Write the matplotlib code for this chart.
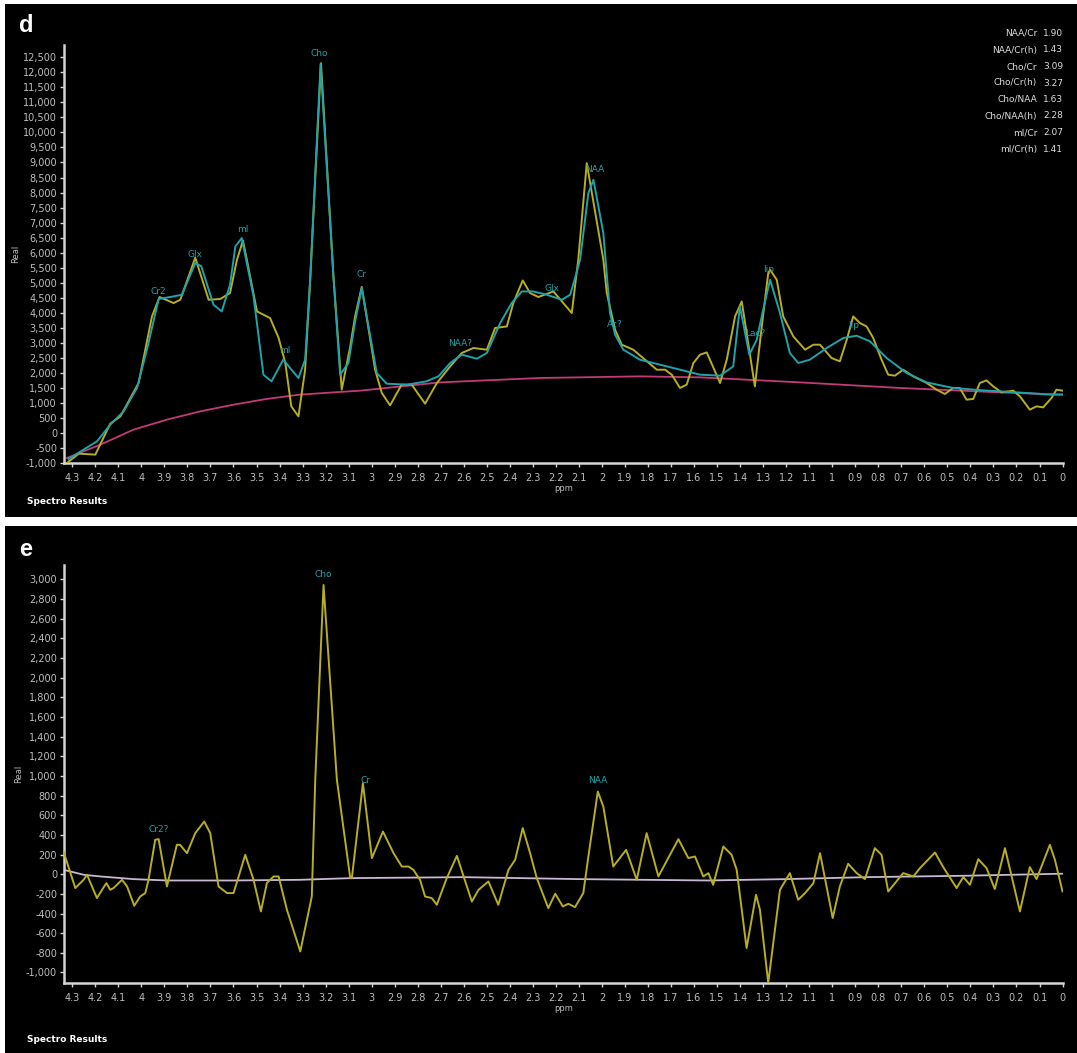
import matplotlib
matplotlib.use("Agg")
import matplotlib.pyplot as plt
from matplotlib.patches import Rectangle

# ---------------- data : panel d ----------------
d_raw_ppm = [4.323, 4.272, 4.200, 4.135, 4.091, 4.012, 3.954, 3.921, 3.860, 3.831, 3.766, 3.708,
             3.658, 3.615, 3.585, 3.559, 3.542, 3.498, 3.441, 3.404, 3.375, 3.349, 3.318, 3.289,
             3.267, 3.220, 3.166, 3.130, 3.093, 3.072, 3.043, 2.985, 2.956, 2.920, 2.870, 2.826,
             2.768, 2.717, 2.659, 2.609, 2.558, 2.500, 2.464, 2.413, 2.385, 2.344, 2.312, 2.276,
             2.211, 2.168, 2.131, 2.103, 2.066, 1.994, 1.979, 1.943, 1.914, 1.864, 1.762, 1.726,
             1.697, 1.661, 1.632, 1.603, 1.574, 1.545, 1.487, 1.458, 1.422, 1.393, 1.336, 1.306,
             1.278, 1.270, 1.241, 1.213, 1.169, 1.118, 1.082, 1.053, 1.003, 0.967, 0.937, 0.909,
             0.880, 0.851, 0.822, 0.786, 0.757, 0.728, 0.692, 0.648, 0.590, 0.547, 0.511, 0.475,
             0.446, 0.417, 0.388, 0.359, 0.330, 0.301, 0.265, 0.214, 0.185, 0.142, 0.113, 0.084,
             0.048, 0.026, 0.000]
d_raw_val = [-998, -688, -722, 309, 552, 1663, 3878, 4523, 4323, 4433, 5830, 4433,
             4456, 4656, 5763, 6400, 5763, 4044, 3823, 3159, 2328, 885, 552, 2105,
             5098, 12305, 5208, 1440, 2880, 3878, 4860, 2105, 1330, 918, 1606, 1606,
             974, 1663, 2215, 2660, 2827, 2770, 3492, 3545, 4323, 5075, 4656, 4523,
             4709, 4323, 3991, 5763, 8979, 5763, 4656, 3435, 2937, 2770, 2105, 2105,
             1939, 1497, 1606, 2328, 2604, 2680, 1663, 2438, 3878, 4377, 1550, 3545,
             5321, 5431, 5098, 3878, 3213, 2770, 2937, 2937, 2494, 2383, 3103, 3878,
             3658, 3545, 3159, 2438, 1939, 1906, 2105, 1883, 1663, 1440, 1297, 1497,
             1497, 1108, 1131, 1663, 1749, 1550, 1350, 1407, 1217, 775, 885, 851,
             1164, 1440, 1407]

d_fit_ppm = [4.316, 4.193, 4.135, 4.077, 4.019, 3.976, 3.925, 3.860, 3.824, 3.766, 3.740, 3.687,
             3.651, 3.615, 3.592, 3.564, 3.513, 3.470, 3.435, 3.384, 3.318, 3.289, 3.267, 3.222,
             3.166, 3.137, 3.101, 3.072, 3.043, 2.978, 2.935, 2.847, 2.763, 2.710, 2.659, 2.609,
             2.543, 2.500, 2.442, 2.392, 2.348, 2.298, 2.240, 2.174, 2.138, 2.117, 2.095, 2.059,
             2.037, 1.994, 1.965, 1.943, 1.907, 1.835, 1.690, 1.574, 1.487, 1.430, 1.401, 1.360,
             1.328, 1.300, 1.270, 1.227, 1.184, 1.148, 1.097, 1.024, 0.952, 0.894, 0.836, 0.764,
             0.677, 0.590, 0.475, 0.345, 0.200, 0.048, 0.000]
d_fit_val = [-865, -280, 276, 719, 1497, 2770, 4456, 4545, 4600, 5653, 5550, 4267,
             4044, 4932, 6206, 6485, 4545, 1939, 1716, 2438, 1829, 2438, 5098, 12280,
             5208, 1939, 2328, 3700, 4822, 1995, 1640, 1606, 1716, 1883, 2328, 2604,
             2471, 2660, 3658, 4323, 4709, 4709, 4600, 4433, 4600, 5154, 5763, 7981,
             8424, 6651, 3991, 3269, 2770, 2438, 2161, 1939, 1906, 2215, 4210, 2604,
             3103, 4100, 5098, 3991, 2660, 2328, 2438, 2827, 3159, 3236, 3047, 2494,
             1995, 1683, 1497, 1417, 1350, 1274, 1280]

d_base_ppm = [4.323, 4.178, 4.034, 3.889, 3.744, 3.600, 3.457, 3.313, 3.166, 3.050, 2.703,
              2.269, 1.835, 1.574, 1.140, 0.706, 0.272, 0.000]
d_base_val = [-832, -389, 110, 443, 719, 941, 1131, 1274, 1350, 1407, 1683,
              1829, 1883, 1850, 1683, 1497, 1350, 1274]

d_peak_labels = ["Cr2", "Glx", "ml", "ml", "Cho", "Cr", "NAA?", "Glx", "NAA", "Ac?", "Lac?", "lip", "lip"]
d_peak_ppm = [3.927, 3.769, 3.561, 3.375, 3.226, 3.043, 2.616, 2.218, 2.030, 1.943, 1.336, 1.278, 0.909]
d_peak_val = [4700, 5930, 6784, 2748, 12614, 5265, 2993, 4822, 8780, 3602, 3302, 5431, 3568]

ratio_names = ["NAA/Cr", "NAA/Cr(h)", "Cho/Cr", "Cho/Cr(h)", "Cho/NAA", "Cho/NAA(h)", "mI/Cr", "mI/Cr(h)"]
ratio_values = ["1.90", "1.43", "3.09", "3.27", "1.63", "2.28", "2.07", "1.41"]

# ---------------- data : panel e ----------------
e_res_ppm = [4.338, 4.287, 4.251, 4.236, 4.193, 4.171, 4.152, 4.135, 4.121, 4.084, 4.062, 4.031,
             4.005, 3.983, 3.969, 3.940, 3.925, 3.889, 3.846, 3.832, 3.802, 3.766, 3.727, 3.701,
             3.665, 3.628, 3.600, 3.582, 3.549, 3.513, 3.481, 3.455, 3.426, 3.404, 3.368, 3.310,
             3.260, 3.245, 3.209, 3.151, 3.093, 3.086, 3.038, 2.999, 2.951, 2.905, 2.869, 2.840,
             2.819, 2.790, 2.768, 2.739, 2.717, 2.674, 2.630, 2.565, 2.536, 2.493, 2.450, 2.406,
             2.377, 2.344, 2.312, 2.283, 2.233, 2.203, 2.170, 2.146, 2.117, 2.081, 2.059, 2.018,
             1.994, 1.951, 1.895, 1.849, 1.806, 1.755, 1.668, 1.625, 1.596, 1.560, 1.538, 1.517,
             1.473, 1.437, 1.415, 1.372, 1.331, 1.314, 1.278, 1.227, 1.184, 1.148, 1.118, 1.082,
             1.053, 0.998, 0.967, 0.931, 0.894, 0.858, 0.815, 0.786, 0.757, 0.692, 0.648, 0.619,
             0.554, 0.518, 0.460, 0.431, 0.402, 0.366, 0.330, 0.294, 0.250, 0.185, 0.142, 0.113,
             0.055, 0.033, 0.000]
e_res_val = [231, -141, -57, -6, -243, -159, -91, -159, -141, -57, -125, -321,
             -227, -192, -57, 350, 357, -125, 299, 299, 214, 418, 536, 418,
             -125, -192, -192, -57, 197, -57, -379, -90, -23, -23, -362, -786,
             -227, 960, 2943, 960, -40, -40, 926, 164, 434, 214, 78, 78,
             45, -57, -227, -243, -311, -40, 187, -278, -159, -74, -311, 45,
             146, 469, 214, -40, -345, -199, -328, -301, -335, -192, 180, 841,
             688, 78, 248, -57, 418, -23, 357, 164, 180, -23, 11, -108,
             282, 197, 45, -751, -209, -362, -1107, -159, 11, -260, -192, -91,
             214, -446, -125, 106, 11, -50, 265, 197, -176, 11, -23, 62,
             221, 72, -141, -29, -108, 153, 62, -151, 265, -379, 72, -50,
             299, 146, -176]

e_base_ppm = [4.338, 4.250, 4.178, 4.034, 3.889, 3.600, 3.310, 3.090, 2.600, 2.100, 1.540, 1.200, 0.850, 0.430, 0.000]
e_base_val = [45, -6, -23, -50, -64, -64, -57, -40, -30, -50, -64, -50, -30, -16, 5]

e_peak_labels = ["Cr2?", "Cho", "Cr", "NAA"]
e_peak_ppm = [3.925, 3.212, 3.028, 2.020]
e_peak_val = [451, 3054, 953, 953]

x_ticks = [4.3, 4.2, 4.1, 4.0, 3.9, 3.8, 3.7, 3.6, 3.5, 3.4, 3.3, 3.2, 3.1, 3.0, 2.9, 2.8, 2.7, 2.6,
           2.5, 2.4, 2.3, 2.2, 2.1, 2.0, 1.9, 1.8, 1.7, 1.6, 1.5, 1.4, 1.3, 1.2, 1.1, 1.0, 0.9, 0.8,
           0.7, 0.6, 0.5, 0.4, 0.3, 0.2, 0.1, 0.0]
d_yticks = list(range(-1000, 12501, 500))
e_yticks = list(range(-1000, 3001, 200))

# ---------------- styling ----------------
W, H = 1077, 1053
YEL = "#b8ae22"
CYA = "#1fa3ab"
MAG = "#c23a78"
LAV = "#c9b7d6"
TICKC = "#bdbdbd"
FONT = "DejaVu Sans"

fig = plt.figure(figsize=(W / 100, H / 100), dpi=100, facecolor="white")


def fx(px):
    return px / W


def fy(py):
    return 1 - py / H


# black panel backgrounds
for top, bot in [(4, 517), (526, 1053)]:
    fig.patches.append(Rectangle((fx(5), fy(bot)), fx(W - 5), (bot - top) / H,
                                 transform=fig.transFigure, facecolor="black",
                                 edgecolor="none", zorder=-10))


def fmt_ppm(v):
    s = ("%.1f" % v).rstrip("0").rstrip(".")
    return s


def make_axes(top_px, bot_px, ylim, yticks):
    ax = fig.add_axes([fx(64), fy(bot_px), fx(1063 - 64), (bot_px - top_px) / H])
    ax.set_zorder(5)
    ax.set_facecolor("none")
    ax.set_xlim(4.336, -0.002)
    ax.set_ylim(*ylim)
    for s in ["top", "right"]:
        ax.spines[s].set_visible(False)
    for s in ["left", "bottom"]:
        ax.spines[s].set_color("#d4d4d4")
        ax.spines[s].set_linewidth(1.8)
    ax.set_xticks(x_ticks)
    ax.set_xticklabels([fmt_ppm(v) for v in x_ticks], fontsize=7, color=TICKC, family=FONT)
    ax.set_yticks(yticks)
    ax.set_yticklabels(["{:,}".format(v) for v in yticks], fontsize=7, color=TICKC, family=FONT)
    ax.tick_params(axis="both", colors="#d4d4d4", length=3, width=1, labelcolor=TICKC)
    ax.tick_params(axis="x", pad=4)
    ax.tick_params(axis="y", pad=2)
    ax.set_xlabel("ppm", fontsize=6, color=TICKC, family=FONT, labelpad=1)
    ax.set_ylabel("Real", fontsize=6, color=TICKC, family=FONT, labelpad=2)
    return ax


# ---------------- panel d ----------------
axd = make_axes(45, 463, (-1000, 12910), d_yticks)
axd.plot(d_base_ppm, d_base_val, color=MAG, lw=1.3, zorder=2)
axd.plot(d_raw_ppm, d_raw_val, color=YEL, lw=1.4, zorder=3)
axd.plot(d_fit_ppm, d_fit_val, color=CYA, lw=1.4, zorder=4)
for lab, p, v in zip(d_peak_labels, d_peak_ppm, d_peak_val):
    axd.text(p, v, lab, color=CYA, fontsize=6.5, ha="center", va="center", family=FONT, zorder=5)

# ---------------- panel e ----------------
axe = make_axes(565, 983, (-1107, 3146), e_yticks)
axe.plot(e_base_ppm, e_base_val, color=LAV, lw=1.3, zorder=2)
axe.plot(e_res_ppm, e_res_val, color=YEL, lw=1.4, zorder=3)
for lab, p, v in zip(e_peak_labels, e_peak_ppm, e_peak_val):
    axe.text(p, v, lab, color=CYA, fontsize=6.5, ha="center", va="center", family=FONT, zorder=5)

# ---------------- panel letters & footers ----------------
fig.text(fx(19), fy(26), "d", color="white", fontsize=17, fontweight="bold",
         family="Liberation Sans", ha="left", va="center")
fig.text(fx(19), fy(550), "e", color="white", fontsize=17, fontweight="bold",
         family="Liberation Sans", ha="left", va="center")
fig.text(fx(27), fy(502), "Spectro Results", color="white", fontsize=6.5, fontweight="bold",
         family=FONT, ha="left", va="center")
fig.text(fx(27), fy(1040), "Spectro Results", color="white", fontsize=6.5, fontweight="bold",
         family=FONT, ha="left", va="center")

# ratio table
for i, (n, v) in enumerate(zip(ratio_names, ratio_values)):
    yy = 33.5 + i * 16.5
    fig.text(fx(1037), fy(yy), n, color="#dcdcdc", fontsize=6.5, family=FONT, ha="right", va="center")
    fig.text(fx(1043), fy(yy), v, color="#dcdcdc", fontsize=6.5, family=FONT, ha="left", va="center")

fig.savefig("out.png", dpi=100, facecolor="white")
